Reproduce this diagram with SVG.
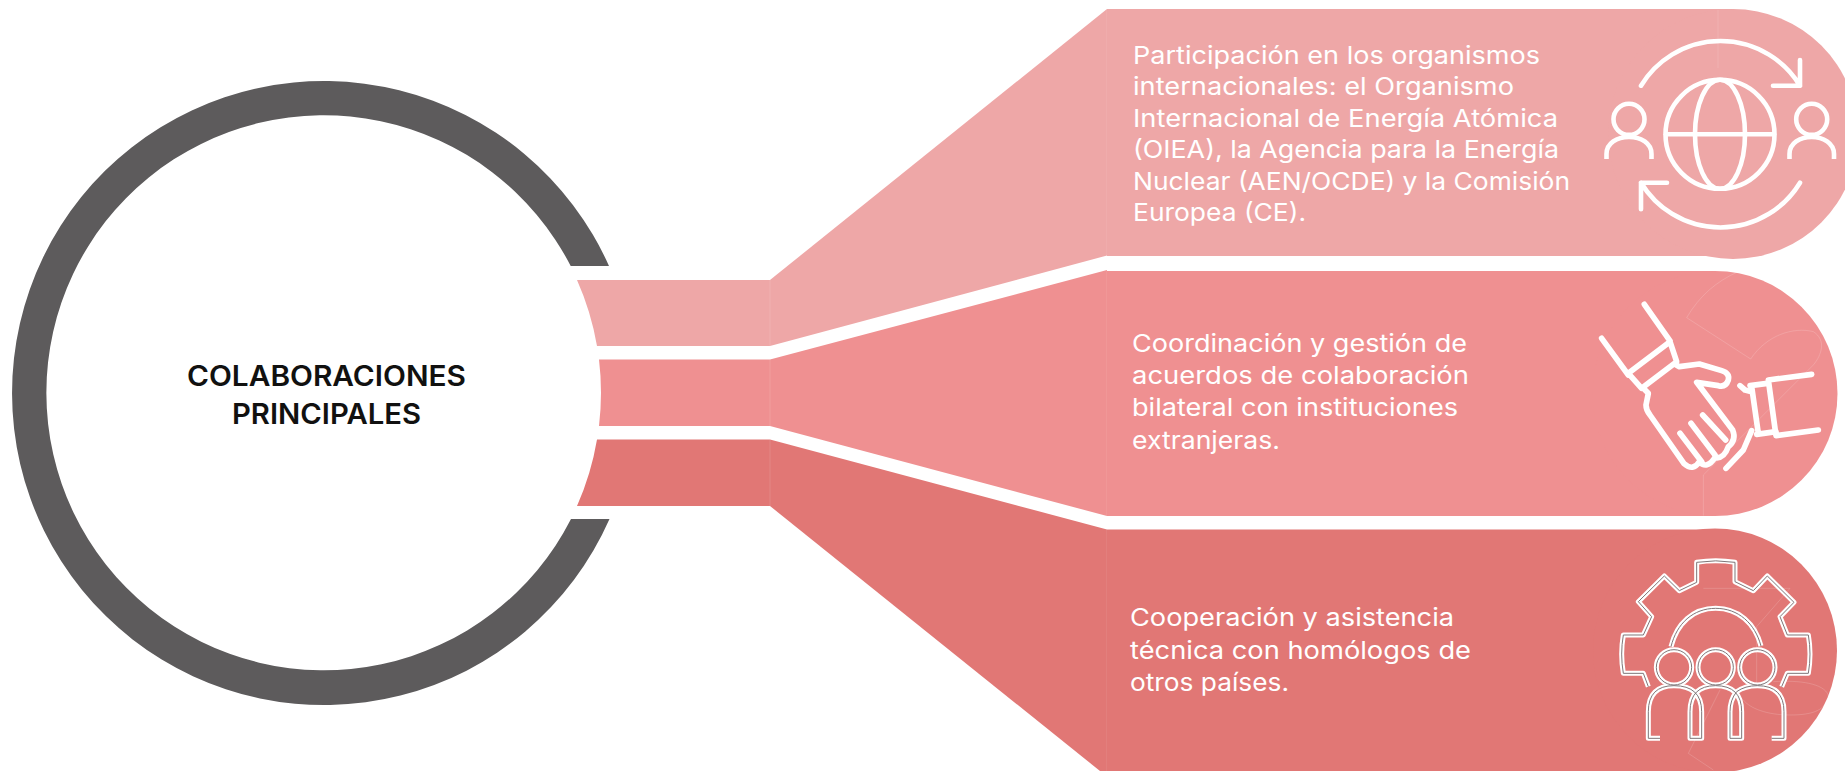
<svg xmlns="http://www.w3.org/2000/svg" width="1845" height="771" viewBox="0 0 1845 771">
<style>
.body{font-family:"Inter","Liberation Sans",sans-serif;font-size:24.2px;font-weight:400;fill:#fff}
.title{font-family:"Inter","Liberation Sans",sans-serif;font-size:28.5px;font-weight:600;fill:#111110}
.c1{fill:#EEA7A7}.c2{fill:#EF9091}.c3{fill:#E17775}
.seam{fill:none;stroke:#fff;stroke-opacity:.13;stroke-width:1}
.icon{fill:none;stroke:#fff;stroke-linecap:round;stroke-linejoin:round}
.faint{fill:none;stroke:#fff;stroke-opacity:.16;stroke-width:3}
</style>
<defs>
<g id="gearPaths">
<path d="M265,500 L250,460 H190 Q180,402 190,345 H250 L275,290 L235,245 L313,168 L358,212 L410,187 V127 Q467,118 525,127 V185 L580,212 L622,168 L702,247 L660,290 L682,345 H745 Q755,402 745,460 H682 L665,500"/>
<path d="M333,380 C350,310 400,265 467,265 C535,265 585,310 603,378"/>
<circle cx="342" cy="442" r="53"/><circle cx="467" cy="442" r="53"/><circle cx="592" cy="442" r="53"/>
<path d="M300,655 H265 V575 Q265,497 342,497 Q425,497 425,575 V655 H390 V575 Q390,497 467,497 Q545,497 545,575 V655 H510 V575 Q510,540 530,515 Q555,497 592,497 Q672,497 672,575 V655 H635"/>
</g>
</defs>
<rect width="1845" height="771" fill="#fff"/>

<g id="connectors">
<path class="c1" d="M577,280 H770 V346 H597 A277.5,277.5 0 0 0 577,280 Z"/>
<path class="c1" d="M770,280 L1107,9 V255.5 L770,346 Z"/>
<path class="c2" d="M599,359.5 H770 V426 H599 A277.5,277.5 0 0 0 599,359.5 Z"/>
<path class="c2" d="M770,359.5 L1107,270 V516 L770,426 Z"/>
<path class="c3" d="M597,439.5 H770 V506 H577 A277.5,277.5 0 0 0 597,439.5 Z"/>
<path class="c3" d="M770,439.5 L1107,529.5 V771 H1100 L770,506 Z"/>
<path class="seam" d="M770,280 V346 M770,359.5 V426 M770,439.5 V506 M1107,9 V255 M1107,270 V516 M1107,530 V771"/>
</g>

<g id="node-center">
<path fill="#5D5B5C" d="M609,266 A312,312 0 1 0 609.5,519 L571,519 A277.5,277.5 0 1 1 570.7,266 Z"/>
<text class="title" x="187" y="385.5" textLength="279" lengthAdjust="spacingAndGlyphs">COLABORACIONES</text>
<text class="title" x="232" y="424" textLength="189" lengthAdjust="spacingAndGlyphs">PRINCIPALES</text>
</g>

<g id="node-1">
<path class="c1" d="M1107,9 H1733 V256 H1107 Z"/>
<circle class="c1" cx="1733" cy="134" r="125"/>
<path class="seam" d="M1718,10 V68"/>
<text class="body" x="1133" y="63.5" textLength="407" lengthAdjust="spacingAndGlyphs">Participación en los organismos</text>
<text class="body" x="1133" y="95" textLength="381" lengthAdjust="spacingAndGlyphs">internacionales: el Organismo</text>
<text class="body" x="1133" y="126.5" textLength="425" lengthAdjust="spacingAndGlyphs">Internacional de Energía Atómica</text>
<text class="body" x="1133" y="158" textLength="426" lengthAdjust="spacingAndGlyphs">(OIEA), la Agencia para la Energía</text>
<text class="body" x="1133" y="189.5" textLength="437" lengthAdjust="spacingAndGlyphs">Nuclear (AEN/OCDE) y la Comisión</text>
<text class="body" x="1133" y="221" textLength="173" lengthAdjust="spacingAndGlyphs">Europea (CE).</text>
<g class="icon" stroke-width="4.6">
<circle cx="1720" cy="134.3" r="54.5"/>
<ellipse cx="1720" cy="134.3" rx="25" ry="54.5"/>
<path d="M1666,134.3 H1774"/>
<path d="M1641,85.7 A93,93 0 0 1 1800,85.7 M1800,60 V85.7 H1773"/>
<path d="M1800,182.7 A93,93 0 0 1 1641,182.7 M1641,209.3 V182.7 H1667"/>
<circle cx="1629" cy="119.3" r="15.5"/>
<circle cx="1811.7" cy="119.3" r="15.5"/>
<path stroke-linecap="butt" d="M1606.5,159 V154 C1606.5,143 1617,137 1629,137 C1641,137 1651.5,143 1651.5,154 V159"/>
<path stroke-linecap="butt" d="M1789.5,159 V154 C1789.5,143 1800,137 1811.7,137 C1823,137 1834,143 1834,154 V159"/>
</g>
</g>

<g id="node-2">
<path class="c2" d="M1107,271 H1715 V516 H1107 Z"/>
<circle class="c2" cx="1715" cy="393.5" r="122.5"/>
<text class="body" x="1132" y="351.5" textLength="335" lengthAdjust="spacingAndGlyphs">Coordinación y gestión de</text>
<text class="body" x="1132" y="384" textLength="337" lengthAdjust="spacingAndGlyphs">acuerdos de colaboración</text>
<text class="body" x="1132" y="416" textLength="326" lengthAdjust="spacingAndGlyphs">bilateral con instituciones</text>
<text class="body" x="1132" y="448.5" textLength="148" lengthAdjust="spacingAndGlyphs">extranjeras.</text>
<g transform="translate(1560,265) scale(.33333)">
<path class="faint" d="M380,158 C420,90 470,50 530,22 M380,158 L572,282 C620,210 700,185 760,200 C800,225 785,270 760,300 L430,630 V752"/>
<g class="icon" stroke-width="17">
<path d="M125,220 L205,330 M253,118 L330,228 M205,325 L330,230 L350,290 L245,370 L205,325"/>
<path d="M250,370 L265,385 L258,420 Q258,435 270,450 L372,596 Q400,620 418,590 Q440,615 465,578 Q492,582 505,545 Q530,525 518,495 L410,352 L475,362 Q497,368 505,345 Q510,325 485,317 L418,297 L358,305 L345,298"/>
<path d="M360,505 L425,590 M393,475 L465,570 M428,450 L497,525"/>
<path d="M755,328 L625,345 L648,512 L775,495 M570,362 L622,355 M590,508 L648,500 M575,365 L595,505"/>
<path d="M540,362 L555,375 L575,380 M575,497 L550,555 L498,610"/>
</g>
</g>
</g>

<g id="node-3">
<path class="c3" d="M1107,529.5 H1715 V771 H1107 Z"/>
<circle class="c3" cx="1715" cy="650.5" r="122"/>
<text class="body" x="1130" y="626" textLength="324" lengthAdjust="spacingAndGlyphs">Cooperación y asistencia</text>
<text class="body" x="1130" y="658.5" textLength="341" lengthAdjust="spacingAndGlyphs">técnica con homólogos de</text>
<text class="body" x="1130" y="691" textLength="159" lengthAdjust="spacingAndGlyphs">otros países.</text>
<g transform="translate(1560,520) scale(.33333)">
<path class="faint" d="M430,205 H690 L590,320 V490 M480,510 L385,700 L460,750 M640,485 C720,480 790,490 805,525 C800,570 760,585 690,585 C620,585 570,565 550,540"/>
<use href="#gearPaths" fill="none" stroke="#fff" stroke-width="15" stroke-linejoin="round" stroke-linecap="butt"/>
<use href="#gearPaths" fill="none" stroke="#7d7577" stroke-width="3" stroke-linejoin="round" stroke-linecap="butt"/>
</g>
</g>
</svg>
